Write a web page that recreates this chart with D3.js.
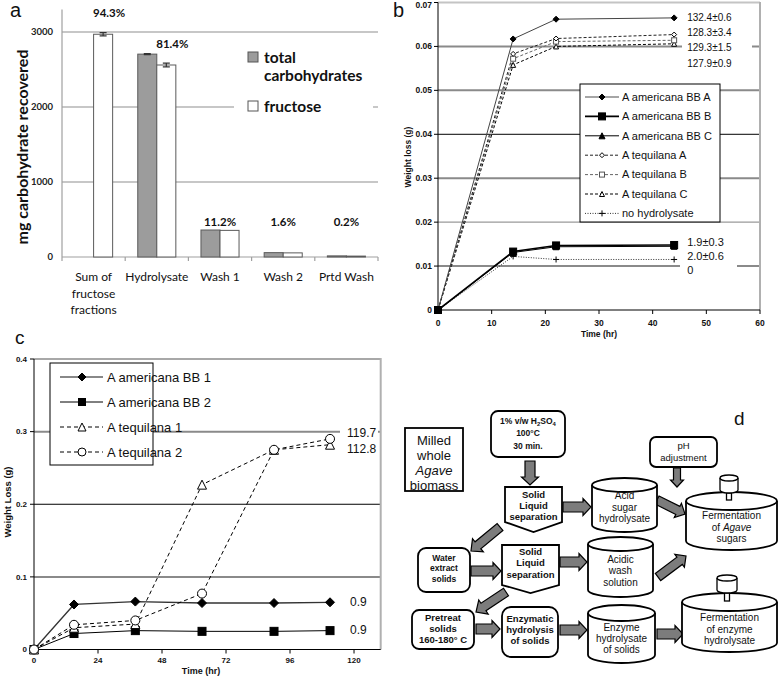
<!DOCTYPE html>
<html><head><meta charset="utf-8">
<script src="https://cdn.jsdelivr.net/npm/d3@7"></script>
<style>body{margin:0;background:#fff}svg{display:block}</style>
</head><body>
<svg id="fig" width="779" height="678"></svg>
<script>
// ================= DATA =================
// Panel a
const aCategories = ["Sum of fructose fractions","Hydrolysate","Wash 1","Wash 2","Prtd Wash"];
const aCategoryLines = [["Sum of","fructose","fractions"],["Hydrolysate"],["Wash 1"],["Wash 2"],["Prtd Wash"]];
const aSeries = ["total carbohydrates","fructose"];
const aTotal = [null, 2705, 360, 58, 15];
const aFructose = [2970, 2560, 355, 55, 12];
const aTotalErr = [0, 6, 0, 0, 0];
const aFructoseErr = [22, 25, 0, 0, 0];
const aPercent = ["94.3%","81.4%","11.2%","1.6%","0.2%"];
const aYTicks = [0, 1000, 2000, 3000];

// Panel b
const bTime = [0, 14, 22, 44];
const bAmericanaA = [0, 0.0617, 0.0662, 0.0665];
const bAmericanaB = [0, 0.0133, 0.0147, 0.0148];
const bAmericanaC = [0, 0.0131, 0.0144, 0.0145];
const bTequilanaA = [0, 0.0583, 0.0618, 0.0627];
const bTequilanaB = [0, 0.0572, 0.0611, 0.0614];
const bTequilanaC = [0, 0.0558, 0.0600, 0.0606];
const bNoHydrolysate = [0, 0.0122, 0.0115, 0.0115];
const bSeriesNames = ["A americana BB A","A americana BB B","A americana BB C","A tequilana A","A tequilana B","A tequilana C","no hydrolysate"];
const bHighLabels = ["132.4±0.6","128.3±3.4","129.3±1.5","127.9±0.9"];
const bLowLabels = ["1.9±0.3","2.0±0.6","0"];
const bYTicks = [0, 0.01, 0.02, 0.03, 0.04, 0.05, 0.06, 0.07];
const bXTicks = [0, 10, 20, 30, 40, 50, 60];

// Panel c
const cTime = [0, 15, 38, 63, 90, 111];
const cAmericana1 = [0, 0.062, 0.066, 0.064, 0.064, 0.065];
const cAmericana2 = [0, 0.022, 0.026, 0.025, 0.025, 0.026];
const cTequilana1 = [0, 0.030, 0.035, 0.227, 0.275, 0.282];
const cTequilana2 = [0, 0.034, 0.040, 0.077, 0.275, 0.290];
const cSeriesNames = ["A americana BB 1","A americana BB 2","A tequilana 1","A tequilana 2"];
const cEndLabels = ["0.9","0.9","112.8","119.7"];
const cYTicks = [0, 0.1, 0.2, 0.3, 0.4];
const cXTicks = [0, 24, 48, 72, 96, 120];

// ================= HELPERS =================
const svg = d3.select("#fig");
const ARIAL = "'Liberation Sans', Arial, sans-serif";
const LATO = "Lato, 'Open Sans', sans-serif";

function marker(g, type, x, y, s, filled, color) {
  const fill = filled ? color : "#fff";
  let m;
  if (type === "diamond") m = g.append("path").attr("d", `M${x},${y-s/2}L${x+s/2},${y}L${x},${y+s/2}L${x-s/2},${y}Z`);
  else if (type === "square") m = g.append("rect").attr("x", x-s/2).attr("y", y-s/2).attr("width", s).attr("height", s);
  else if (type === "triangle") m = g.append("path").attr("d", `M${x},${y-s/2}L${x+s/2},${y+s/2}L${x-s/2},${y+s/2}Z`);
  else if (type === "circle") m = g.append("circle").attr("cx", x).attr("cy", y).attr("r", s/2);
  else if (type === "plus") { g.append("path").attr("d", `M${x-s/2},${y}H${x+s/2}M${x},${y-s/2}V${y+s/2}`).attr("stroke", color).attr("stroke-width", 1); return; }
  m.attr("fill", fill).attr("stroke", color).attr("stroke-width", 1);
}

// ================= PANEL A =================
(function(){
  const g = svg.append("g");
  const x = d3.scaleBand().domain(aCategories).range([62, 378]);
  const xi = d3.scaleBand().domain(aSeries).range([0, x.bandwidth()]).paddingOuter(0.66);
  const y = d3.scaleLinear().domain([0, 3300]).range([257, 9.5]);
  const rows = aCategories.map((c, i) => ({c, i, total: aTotal[i], fructose: aFructose[i], te: aTotalErr[i], fe: aFructoseErr[i]}));

  g.selectAll("line.grid").data(aYTicks.filter(d => d > 0)).join("line")
    .attr("x1", 62).attr("x2", 378).attr("y1", d => y(d)).attr("y2", d => y(d))
    .attr("stroke", "#b4b4b4").attr("stroke-width", 1.6);
  g.append("rect").attr("x", 234).attr("y", 42).attr("width", 139).attr("height", 78).attr("fill", "#fff");

  g.append("line").attr("x1", 62).attr("x2", 62).attr("y1", 9.5).attr("y2", 257).attr("stroke", "#a0a0a0").attr("stroke-width", 1.2);
  g.append("line").attr("x1", 62).attr("x2", 378).attr("y1", 257).attr("y2", 257).attr("stroke", "#a0a0a0").attr("stroke-width", 1.2);
  g.selectAll("line.xt").data(d3.range(aCategories.length + 1)).join("line")
    .attr("x1", d => 62 + d * x.step()).attr("x2", d => 62 + d * x.step()).attr("y1", 257).attr("y2", 261)
    .attr("stroke", "#a0a0a0").attr("stroke-width", 1.2);
  g.selectAll("text.yt").data(aYTicks).join("text")
    .attr("x", 53).attr("y", d => y(d)).attr("dy", "0.35em").attr("text-anchor", "end")
    .attr("font-family", LATO).attr("font-size", 9.5).attr("font-weight", "bold").attr("fill", "#222").text(d => d);

  g.selectAll("rect.tot").data(rows.filter(r => r.total != null)).join("rect")
    .attr("x", r => x(r.c) + xi(aSeries[0])).attr("width", xi.bandwidth())
    .attr("y", r => y(r.total)).attr("height", r => y(0) - y(r.total))
    .attr("fill", "#9c9c9c").attr("stroke", "#5a5a5a").attr("stroke-width", 1);
  g.selectAll("rect.fru").data(rows).join("rect")
    .attr("x", r => x(r.c) + xi(aSeries[1])).attr("width", xi.bandwidth())
    .attr("y", r => y(r.fructose)).attr("height", r => y(0) - y(r.fructose))
    .attr("fill", "#fff").attr("stroke", "#5a5a5a").attr("stroke-width", 1);
  const errs = [];
  rows.forEach(r => {
    if (r.te > 0) errs.push({cx: x(r.c) + xi(aSeries[0]) + xi.bandwidth()/2, v: r.total, e: r.te});
    if (r.fe > 0) errs.push({cx: x(r.c) + xi(aSeries[1]) + xi.bandwidth()/2, v: r.fructose, e: r.fe});
  });
  errs.forEach(d => {
    g.append("path").attr("d", `M${d.cx},${y(d.v-d.e)}V${y(d.v+d.e)}M${d.cx-3.5},${y(d.v-d.e)}H${d.cx+3.5}M${d.cx-3.5},${y(d.v+d.e)}H${d.cx+3.5}`)
      .attr("stroke", "#333").attr("stroke-width", 1.2).attr("fill", "none");
  });
  g.selectAll("text.pct").data(rows).join("text")
    .attr("x", r => r.fructose > 1000 ? x(r.c) + xi(aSeries[1]) + xi.bandwidth()/2 + 6 : x(r.c) + x.bandwidth()/2)
    .attr("y", r => r.fructose > 1000 ? y(r.fructose) - 17 : y(410))
    .attr("text-anchor", "middle").attr("font-family", LATO).attr("font-weight", "bold").attr("font-size", 11.5)
    .attr("fill", "#111").text(r => aPercent[r.i]);
  rows.forEach(r => {
    aCategoryLines[r.i].forEach((t, k) => {
      g.append("text").attr("x", x(r.c) + x.bandwidth()/2).attr("y", 281 + k * 16.5)
        .attr("text-anchor", "middle").attr("font-family", LATO).attr("font-size", 12).attr("fill", "#111").text(t);
    });
  });
  g.append("text").attr("transform", "translate(28,147) rotate(-90)").attr("text-anchor", "middle")
    .attr("font-family", LATO).attr("font-weight", "bold").attr("font-size", 16).attr("fill", "#111")
    .text("mg carbohydrate recovered");
  const leg = [{fill: "#9c9c9c", lines: ["total","carbohydrates"], y: 52}, {fill: "#fff", lines: ["fructose"], y: 101}];
  leg.forEach((L) => {
    g.append("rect").attr("x", 248).attr("y", L.y).attr("width", 10).attr("height", 10)
      .attr("fill", L.fill).attr("stroke", "#555").attr("stroke-width", 1);
    L.lines.forEach((t, k) => g.append("text").attr("x", 264).attr("y", L.y + 11 + k * 18)
      .attr("font-family", LATO).attr("font-weight", "bold").attr("font-size", 15.5).attr("fill", "#111").text(t));
  });
  g.append("text").attr("x", 10).attr("y", 17).attr("font-family", ARIAL).attr("font-size", 20).attr("fill", "#111").text("a");
})();

// ================= PANEL B =================
(function(){
  const g = svg.append("g");
  const x = d3.scaleLinear().domain([0, 60]).range([438, 760]);
  const y = d3.scaleLinear().domain([0, 0.07]).range([310, 2.5]);
  const gridStyle = {0.01:["#8a8a8a",2],0.02:["#9a9a9a",1.3],0.03:["#8a8a8a",2],0.04:["#000",1],0.05:["#8a8a8a",2],0.06:["#8a8a8a",2],0.07:["#c4c4c4",2]};
  g.selectAll("line.grid").data(bYTicks.filter(d => d > 0)).join("line")
    .attr("x1", 438).attr("x2", 760).attr("y1", d => y(d)).attr("y2", d => y(d))
    .attr("stroke", d => gridStyle[d][0]).attr("stroke-width", d => gridStyle[d][1]);
  g.append("line").attr("x1", 760).attr("x2", 760).attr("y1", 2).attr("y2", 310).attr("stroke", "#b0b0b0").attr("stroke-width", 2);
  g.append("line").attr("x1", 438).attr("x2", 438).attr("y1", 2.5).attr("y2", 310).attr("stroke", "#000");
  g.append("line").attr("x1", 438).attr("x2", 760).attr("y1", 310).attr("y2", 310).attr("stroke", "#000");
  g.selectAll("line.yt").data(bYTicks).join("line").attr("x1", 434).attr("x2", 438).attr("y1", d => y(d)).attr("y2", d => y(d)).attr("stroke", "#000");
  g.selectAll("line.xt").data(bXTicks).join("line").attr("x1", d => x(d)).attr("x2", d => x(d)).attr("y1", 310).attr("y2", 314).attr("stroke", "#000");
  g.selectAll("text.yt").data(bYTicks).join("text").attr("x", 432).attr("y", d => Math.max(y(d), 5)).attr("dy", "0.35em").attr("text-anchor", "end")
    .attr("font-family", ARIAL).attr("font-weight", "bold").attr("font-size", 8.5).attr("fill", "#111").text(d => d === 0 ? "0" : d3.format(".2f")(d));
  g.selectAll("text.xt").data(bXTicks).join("text").attr("x", d => x(d)).attr("y", 326).attr("text-anchor", "middle")
    .attr("font-family", ARIAL).attr("font-weight", "bold").attr("font-size", 8.5).attr("fill", "#111").text(d => d);
  g.append("text").attr("x", 599).attr("y", 337).attr("text-anchor", "middle").attr("font-family", ARIAL).attr("font-weight", "bold").attr("font-size", 8.5).attr("fill", "#111").text("Time (hr)");
  g.append("text").attr("transform", "translate(411,157) rotate(-90)").attr("text-anchor", "middle").attr("font-family", ARIAL).attr("font-weight", "bold").attr("font-size", 8.5).attr("fill", "#111").text("Weight loss (g)");

  const bValues = [bAmericanaA, bAmericanaB, bAmericanaC, bTequilanaA, bTequilanaB, bTequilanaC, bNoHydrolysate];
  const styles = [
    {color:"#444", w:1, dash:null, m:"diamond", filled:true, s:6},
    {color:"#000", w:1.6, dash:null, m:"square", filled:true, s:7},
    {color:"#000", w:1, dash:null, m:"triangle", filled:true, s:6},
    {color:"#222", w:1, dash:"3,2", m:"diamond", filled:false, s:5},
    {color:"#666", w:1, dash:"3,2", m:"square", filled:false, s:5},
    {color:"#000", w:1, dash:"3,2", m:"triangle", filled:false, s:5},
    {color:"#333", w:1, dash:"1,1.5", m:"plus", filled:false, s:6}
  ];
  const line = d3.line().x((d, i) => x(bTime[i])).y(d => y(d));
  const order = [6, 5, 4, 3, 2, 1, 0];
  order.forEach(k => {
    const st = styles[k];
    g.append("path").attr("d", line(bValues[k])).attr("fill", "none").attr("stroke", st.color).attr("stroke-width", st.w).attr("stroke-dasharray", st.dash);
  });
  order.forEach(k => {
    const st = styles[k];
    bValues[k].forEach((v, i) => marker(g, st.m, x(bTime[i]), y(v), st.s, st.filled, st.color === "#666" ? "#555" : "#000"));
  });
  g.append("rect").attr("x", 682).attr("y", 8).attr("width", 70).attr("height", 63).attr("fill", "#fff");
  g.append("rect").attr("x", 680).attr("y", 233).attr("width", 57).attr("height", 45).attr("fill", "#fff");
  const hy = y(bAmericanaA[3]) - 0.5;
  bHighLabels.forEach((t, i) => g.append("text").attr("x", x(44) + 13).attr("y", hy + i * 15.3).attr("dy", "0.35em")
    .attr("font-family", ARIAL).attr("font-size", 10).attr("fill", "#111").text(t));
  const ly = y(bAmericanaB[3]) - 3.3;
  bLowLabels.forEach((t, i) => g.append("text").attr("x", x(44) + 13).attr("y", ly + i * 14.3).attr("dy", "0.35em")
    .attr("font-family", ARIAL).attr("font-size", 11).attr("fill", "#111").text(t));
  g.append("rect").attr("x", 580).attr("y", 84).attr("width", 140).attr("height", 138).attr("fill", "#fff").attr("stroke", "#000").attr("stroke-width", 1);
  bSeriesNames.forEach((n, k) => {
    const st = styles[k], yy = 97 + k * 19.4;
    g.append("line").attr("x1", 585).attr("x2", 619).attr("y1", yy).attr("y2", yy).attr("stroke", k === 0 ? "#888" : st.color).attr("stroke-width", k === 0 ? 1.6 : st.w).attr("stroke-dasharray", st.dash);
    marker(g, st.m, 602, yy, st.s, st.filled, st.color === "#666" ? "#555" : "#000");
    g.append("text").attr("x", 622).attr("y", yy).attr("dy", "0.35em").attr("font-family", ARIAL).attr("font-size", 11).attr("fill", "#111").text(n);
  });
  g.append("text").attr("x", 393).attr("y", 17).attr("font-family", ARIAL).attr("font-size", 20).attr("fill", "#111").text("b");
})();

// ================= PANEL C =================
(function(){
  const g = svg.append("g");
  const x = d3.scaleLinear().domain([0, 130]).range([34, 380.7]);
  const y = d3.scaleLinear().domain([0, 0.4]).range([649.5, 359]);
  const gridStyle = {0.1:["#8a8a8a",2],0.2:["#000",1],0.3:["#8a8a8a",2],0.4:["#a8a8a8",2]};
  g.selectAll("line.grid").data(cYTicks.filter(d => d > 0)).join("line")
    .attr("x1", 34).attr("x2", 380.7).attr("y1", d => y(d)).attr("y2", d => y(d))
    .attr("stroke", d => gridStyle[d][0]).attr("stroke-width", d => gridStyle[d][1]);
  g.append("line").attr("x1", 380.7).attr("x2", 380.7).attr("y1", 358).attr("y2", 649.5).attr("stroke", "#b0b0b0").attr("stroke-width", 2);
  g.append("line").attr("x1", 34).attr("x2", 34).attr("y1", 359).attr("y2", 649.5).attr("stroke", "#000");
  g.append("line").attr("x1", 34).attr("x2", 380.7).attr("y1", 649.5).attr("y2", 649.5).attr("stroke", "#000");
  g.selectAll("line.yt").data(cYTicks).join("line").attr("x1", 30).attr("x2", 34).attr("y1", d => y(d)).attr("y2", d => y(d)).attr("stroke", "#000");
  g.selectAll("line.xt").data(cXTicks).join("line").attr("x1", d => x(d)).attr("x2", d => x(d)).attr("y1", 649.5).attr("y2", 653.5).attr("stroke", "#000");
  g.selectAll("text.yt").data(cYTicks).join("text").attr("x", 27).attr("y", d => y(d)).attr("dy", "0.35em").attr("text-anchor", "end")
    .attr("font-family", ARIAL).attr("font-weight", "bold").attr("font-size", 8).attr("fill", "#111").text(d => d === 0 ? "0" : d3.format(".1f")(d));
  g.selectAll("text.xt").data(cXTicks).join("text").attr("x", d => x(d)).attr("y", 663).attr("text-anchor", "middle")
    .attr("font-family", ARIAL).attr("font-weight", "bold").attr("font-size", 8).attr("fill", "#111").text(d => d);
  g.append("text").attr("x", 201).attr("y", 674).attr("text-anchor", "middle").attr("font-family", ARIAL).attr("font-weight", "bold").attr("font-size", 9).attr("fill", "#111").text("Time (hr)");
  g.append("text").attr("transform", "translate(11,502) rotate(-90)").attr("text-anchor", "middle").attr("font-family", ARIAL).attr("font-weight", "bold").attr("font-size", 9.5).attr("fill", "#111").text("Weight Loss (g)");

  const cValues = [cAmericana1, cAmericana2, cTequilana1, cTequilana2];
  const styles = [
    {color:"#333", w:1.3, dash:null, m:"diamond", filled:true, s:9},
    {color:"#000", w:1, dash:null, m:"square", filled:true, s:8},
    {color:"#000", w:1, dash:"4,3", m:"triangle", filled:false, s:9},
    {color:"#000", w:1, dash:"4,3", m:"circle", filled:false, s:9}
  ];
  const line = d3.line().x((d, i) => x(cTime[i])).y(d => y(d));
  cValues.forEach((vals, k) => {
    const st = styles[k];
    g.append("path").attr("d", line(vals)).attr("fill", "none").attr("stroke", st.color).attr("stroke-width", st.w).attr("stroke-dasharray", st.dash);
  });
  cValues.forEach((vals, k) => {
    const st = styles[k];
    vals.forEach((v, i) => marker(g, st.m, x(cTime[i]), y(v), st.s, st.filled, "#000"));
  });
  g.append("rect").attr("x", 340).attr("y", 424).attr("width", 38).attr("height", 33).attr("fill", "#fff");
  const dyOff = [-0.5, -0.5, 4.6, -5.6];
  const dxOff = [20, 20, 17, 17];
  cValues.forEach((vals, k) => {
    g.append("text").attr("x", x(cTime[cTime.length-1]) + dxOff[k]).attr("y", y(vals[vals.length-1]) + dyOff[k]).attr("dy", "0.35em")
      .attr("font-family", ARIAL).attr("font-size", 12).attr("fill", "#111").text(cEndLabels[k]);
  });
  g.append("rect").attr("x", 50).attr("y", 363).attr("width", 103).attr("height", 102).attr("fill", "#fff").attr("stroke", "#000").attr("stroke-width", 1);
  cSeriesNames.forEach((n, k) => {
    const st = styles[k], yy = 377 + k * 25;
    g.append("line").attr("x1", 60).attr("x2", 103).attr("y1", yy).attr("y2", yy).attr("stroke", k === 0 ? "#888" : st.color).attr("stroke-width", k === 0 ? 2 : st.w).attr("stroke-dasharray", st.dash);
    marker(g, st.m, 82, yy, st.s - 1, st.filled, "#000");
    g.append("text").attr("x", 107).attr("y", yy).attr("dy", "0.35em").attr("font-family", ARIAL).attr("font-size", 13).attr("fill", "#111").text(n);
  });
  g.append("text").attr("x", 15).attr("y", 344).attr("font-family", ARIAL).attr("font-size", 19).attr("fill", "#111").text("c");
})();

// ================= PANEL D (flow diagram) =================
(function(){
  const g = svg.append("g");
  const dNodes = [
    {shape:"rect", x:405, y:428, w:58, h:63, rx:0, lines:["Milled","whole","*Agave*","biomass"], cy:[440,455,470,485], size:13, bold:false},
    {shape:"rect", x:491, y:411, w:74, h:46, rx:7, lines:["1% v/w H_2SO_4","100°C","30 min."], cy:[421,433,446], size:8.5, bold:true},
    {shape:"rect", x:650, y:437, w:67, h:30, rx:6, lines:["pH","adjustment"], cy:[446,458], size:9.5, bold:false},
    {shape:"pent", x:505, y:487, w:57, h:35, tip:10, lines:["Solid","Liquid","separation"], cy:[495,505.5,517], size:9.5, bold:true},
    {shape:"cyl", x:592, y:478, w:65, h:54, ry:7, lines:["Acid","sugar","hydrolysate"], cy:[495,507,518], size:10, bold:false},
    {shape:"cyl", x:686, y:492, w:91, h:58, ry:9, lines:["Fermentation","of *Agave*","sugars"], cy:[515,527,538], size:10, bold:false, motor:{x:720,y:475,w:18,h:18,stem:7}},
    {shape:"rect", x:418, y:548, w:52, h:44, rx:8, lines:["Water","extract","solids"], cy:[558,568,579], size:8.5, bold:true},
    {shape:"pent", x:502, y:545, w:57, h:40, tip:8, lines:["Solid","Liquid","separation"], cy:[552,563,575], size:9.5, bold:true},
    {shape:"cyl", x:588, y:537, w:65, h:60, ry:7, lines:["Acidic","wash","solution"], cy:[559,570,582], size:10, bold:false},
    {shape:"rect", x:412, y:610, w:62, h:39, rx:7, lines:["Pretreat","solids","160-180° C"], cy:[617.5,629,640], size:9.5, bold:true},
    {shape:"rect", x:502, y:607, w:56, h:50, rx:9, lines:["Enzymatic","hydrolysis","of solids"], cy:[619,630,641], size:9.5, bold:true},
    {shape:"cyl", x:588, y:605, w:67, h:58, ry:8, lines:["Enzyme","hydrolysate","of solids"], cy:[627,638,649], size:10, bold:false},
    {shape:"cyl", x:682, y:593, w:95, h:59, ry:9, lines:["Fermentation","of enzyme","hydrolysate"], cy:[617,629,640], size:10, bold:false, motor:{x:717,y:575,w:20,h:18,stem:8}}
  ];
  const dArrows = [
    [530,461,530,485,10,17,8],
    [563,507,591,507,10,17,8],
    [677,468,677,487,7,13,7],
    [657,500,685,514,9,16,8],
    [500,527,471,551,9,17,9],
    [471,571,501,571,10,17,8],
    [560,562,587,562,10,17,8],
    [658,577,686,556,9,16,8],
    [506,592,476,612,9,17,9],
    [476,629,500,629,10,17,8],
    [560,630,587,630,10,17,8],
    [657,634,683,634,10,17,8]
  ];
  function cylinder(x, y, w, h, ry, sw) {
    const rx = w/2;
    g.append("path").attr("d", `M${x},${y+ry}L${x},${y+h-ry}A${rx},${ry} 0 0 0 ${x+w},${y+h-ry}L${x+w},${y+ry}A${rx},${ry} 0 0 0 ${x},${y+ry}Z`)
      .attr("fill", "#fff").attr("stroke", "#000").attr("stroke-width", sw);
    g.append("path").attr("d", `M${x},${y+ry}A${rx},${ry} 0 0 0 ${x+w},${y+ry}`).attr("fill", "none").attr("stroke", "#000").attr("stroke-width", sw);
  }
  function addLine(cx, cyv, str, size, bold) {
    const t = g.append("text").attr("x", cx).attr("y", cyv).attr("dy", "0.35em").attr("text-anchor", "middle")
      .attr("font-family", ARIAL).attr("font-size", size).attr("font-weight", bold ? "bold" : "normal").attr("fill", "#111");
    let prevSub = false;
    str.split(/(\*[^*]+\*|_\d)/).filter(s => s.length).forEach(s => {
      if (s[0] === "*") { t.append("tspan").attr("font-style", "italic").text(s.slice(1, -1)); prevSub = false; }
      else if (s[0] === "_") { t.append("tspan").attr("font-size", size * 0.7).attr("dy", prevSub ? 0 : 2).text(s.slice(1)); prevSub = true; }
      else { t.append("tspan").attr("dy", prevSub ? -2 : null).text(s); prevSub = false; }
    });
  }
  dArrows.forEach(([x1,y1,x2,y2,sw,hw,hl]) => {
    const dx = x2-x1, dy = y2-y1, L = Math.hypot(dx, dy), ux = dx/L, uy = dy/L, px = -uy, py = ux;
    const pts = [[0,-sw/2],[L-hl,-sw/2],[L-hl,-hw/2],[L,0],[L-hl,hw/2],[L-hl,sw/2],[0,sw/2]]
      .map(([a,b]) => [x1+ux*a+px*b, y1+uy*a+py*b]);
    g.append("polygon").attr("points", pts.map(p => p.join(",")).join(" ")).attr("fill", "#7c7c7c").attr("stroke", "#000").attr("stroke-width", 1.2);
  });
  dNodes.forEach(n => {
    if (n.shape === "rect") g.append("rect").attr("x", n.x).attr("y", n.y).attr("width", n.w).attr("height", n.h).attr("rx", n.rx)
      .attr("fill", "#fff").attr("stroke", "#000").attr("stroke-width", 1.8);
    else if (n.shape === "pent") g.append("polygon").attr("points", [[n.x,n.y],[n.x+n.w,n.y],[n.x+n.w,n.y+n.h],[n.x+n.w/2,n.y+n.h+n.tip],[n.x,n.y+n.h]].map(p => p.join(",")).join(" "))
      .attr("fill", "#fff").attr("stroke", "#000").attr("stroke-width", 1.8);
    else if (n.shape === "cyl") {
      cylinder(n.x, n.y, n.w, n.h, n.ry, 1.8);
      if (n.motor) {
        const m = n.motor;
        g.append("rect").attr("x", m.x + m.w/2 - 2.5).attr("y", m.y + m.h).attr("width", 5).attr("height", m.stem).attr("fill", "#fff").attr("stroke", "#000").attr("stroke-width", 1.3);
        cylinder(m.x, m.y, m.w, m.h, 3, 1.3);
      }
    }
    n.lines.forEach((s, k) => addLine(n.x + n.w/2, n.cy[k], s, n.size, n.bold));
  });
  g.append("text").attr("x", 734).attr("y", 425).attr("font-family", ARIAL).attr("font-size", 19).attr("fill", "#111").text("d");
})();
</script>
</body></html>
